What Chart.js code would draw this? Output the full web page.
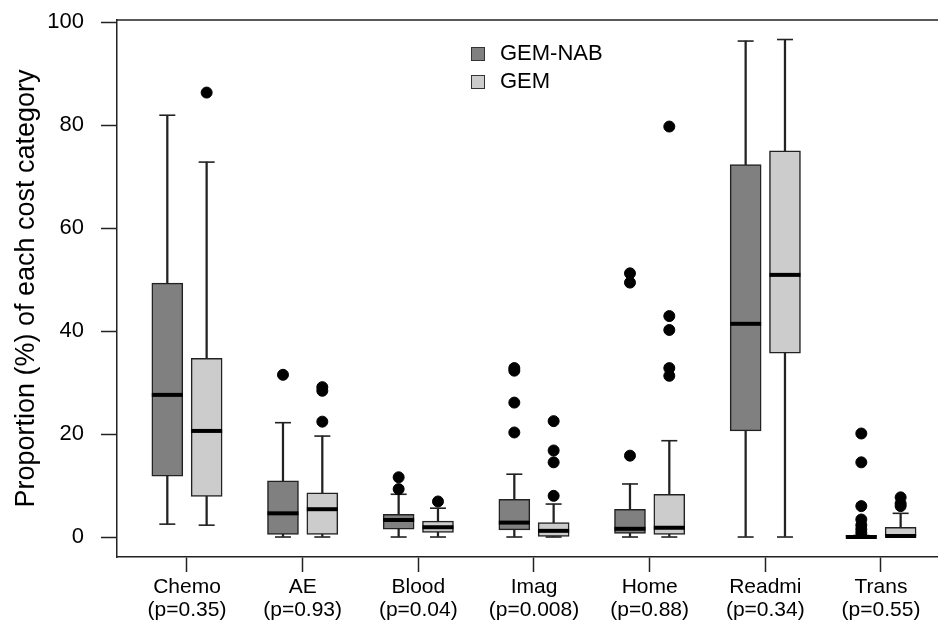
<!DOCTYPE html>
<html>
<head>
<meta charset="utf-8">
<script src="https://cdn.jsdelivr.net/npm/chart.js@4.4.1/dist/chart.umd.min.js"></script>
<style>
  html, body { margin: 0; padding: 0; background: #fff; }
</style>
</head>
<body>
<canvas id="myChart" width="938" height="622"></canvas>
<script>
// categories and p-values on the x axis
const categories = ['Chemo', 'AE', 'Blood', 'Imag', 'Home', 'Readmi', 'Trans'];
const pValues = ['0.35', '0.93', '0.04', '0.008', '0.88', '0.34', '0.55'];
const yTicks = [0, 20, 40, 60, 80, 100];

// GEM-NAB boxplot stats
const nabMin = [2.5, 0, 0, 0, 0, 0, 0];
const nabQ1 = [11.8, 0.5, 1.5, 1.4, 0.7, 20.6, 0];
const nabMed = [27.6, 4.6, 3.3, 2.8, 1.6, 41.4, 0];
const nabQ3 = [49.3, 10.9, 4.4, 7.3, 5.4, 72.3, 0.3];
const nabMax = [81.9, 22.2, 8.3, 12.2, 10.3, 96.3, 0.3];
const nabOut = [[], [31.5], [11.6, 9.3], [32.8, 32.3, 26.1, 20.3], [51.2, 49.4, 15.8], [], [20.1, 14.5, 6.0, 3.4, 2.3, 1.5, 0.8]];

// GEM boxplot stats
const gemMin = [2.3, 0, 0, 0, 0, 0, 0];
const gemQ1 = [7.9, 0.5, 0.9, 0.1, 0.5, 35.7, 0];
const gemMed = [20.6, 5.4, 1.9, 1.2, 1.8, 50.9, 0.2];
const gemQ3 = [34.7, 8.6, 3.1, 2.8, 8.3, 75.0, 1.9];
const gemMax = [72.8, 19.6, 5.6, 6.4, 18.7, 96.6, 4.6];
const gemOut = [[86.3], [29.1, 28.4, 22.4], [6.9], [22.5, 16.8, 14.5, 8.0], [79.7, 42.9, 40.2, 32.8, 31.3], [], [7.7, 6.5, 6.0]];

const FONT = '"Liberation Sans", Arial, sans-serif';
Chart.defaults.font.family = FONT;
Chart.defaults.color = '#000';

const shift = 0.17; // half distance between the two boxes of a category

function boxSets(label, color, side, mins, q1s, meds, q3s, maxs, outs) {
  const xs = categories.map((c, i) => i + 1 + side * shift);
  return [
    { // box
      type: 'bar', label: label,
      data: xs.map((x, i) => ({ x: x, y: [q1s[i], q3s[i]] })),
      backgroundColor: color, borderColor: '#222', borderWidth: 1.5,
      borderSkipped: false, barThickness: 31, grouped: false, order: 2
    },
    { // whisker stem
      type: 'bar',
      data: xs.map((x, i) => ({ x: x, y: [mins[i], maxs[i]] })),
      backgroundColor: '#222', borderWidth: 0, barThickness: 1.6, grouped: false, order: 3
    },
    { // whisker caps
      type: 'scatter',
      data: xs.flatMap((x, i) => [{ x: x, y: mins[i] }, { x: x, y: maxs[i] }]),
      pointStyle: 'line', radius: 8, borderWidth: 1.6, borderColor: '#222', order: 1
    },
    { // median
      type: 'scatter',
      data: xs.map((x, i) => ({ x: x, y: meds[i] })),
      pointStyle: 'line', radius: 15.5, borderWidth: 4, borderColor: '#000', order: 0
    },
    { // outliers
      type: 'scatter',
      data: xs.flatMap((x, i) => outs[i].map(v => ({ x: x, y: v }))),
      pointStyle: 'circle', radius: 5.5, backgroundColor: '#000', borderColor: '#000', borderWidth: 1, order: 0
    }
  ];
}

// top line of the plot box
const frameTop = {
  id: 'frameTop',
  afterDraw(chart) {
    const { ctx, chartArea: a } = chart;
    ctx.save();
    ctx.strokeStyle = '#222';
    ctx.lineWidth = 1.5;
    ctx.beginPath();
    ctx.moveTo(a.left, a.top);
    ctx.lineTo(a.right, a.top);
    ctx.stroke();
    ctx.restore();
  }
};

// legend drawn inside the plot, R style
const boxLegend = {
  id: 'boxLegend',
  afterDraw(chart) {
    const ctx = chart.ctx;
    const items = chart.data.datasets.filter(d => d.label);
    ctx.save();
    ctx.font = '22px ' + FONT;
    ctx.textBaseline = 'middle';
    items.forEach((d, i) => {
      const y = 54 + i * 28;
      ctx.fillStyle = d.backgroundColor;
      ctx.fillRect(471, y - 7, 14, 14);
      ctx.strokeStyle = '#333';
      ctx.lineWidth = 1;
      ctx.strokeRect(471.5, y - 6.5, 13, 13);
      ctx.fillStyle = '#000';
      ctx.fillText(d.label, 500, y);
    });
    ctx.restore();
  }
};

const config = {
  type: 'bar',
  data: {
    datasets: [
      ...boxSets('GEM-NAB', '#808080', -1, nabMin, nabQ1, nabMed, nabQ3, nabMax, nabOut),
      ...boxSets('GEM', '#cccccc', 1, gemMin, gemQ1, gemMed, gemQ3, gemMax, gemOut)
    ]
  },
  options: {
    responsive: false,
    animation: false,
    layout: { autoPadding: false, padding: { top: 20, right: 0, bottom: 0, left: 0 } },
    plugins: { legend: { display: false }, tooltip: { enabled: false } },
    scales: {
      x: {
        type: 'linear', min: 0.395, max: 7.493, offset: false,
        afterBuildTicks: s => { s.ticks = categories.map((c, i) => ({ value: i + 1 })); },
        afterFit: s => { s.height = 65; s.paddingRight = 0; s.paddingLeft = 0; },
        ticks: {
          callback: v => {
            const i = Math.round(v) - 1;
            return [categories[i], '(p=' + pValues[i] + ')'];
          },
          font: { size: 21, lineHeight: 1.12 }, padding: 3,
          maxRotation: 0, autoSkip: false
        },
        grid: { offset: false, drawOnChartArea: false, tickLength: 15, tickColor: '#222', tickWidth: 1.5 },
        border: { color: '#222', width: 1.5 }
      },
      y: {
        min: -3.88, max: 100.39,
        afterBuildTicks: s => { s.ticks = yTicks.map(v => ({ value: v })); },
        afterFit: s => { s.width = 117; s.paddingTop = 0; s.paddingBottom = 0; },
        ticks: { font: { size: 22 }, padding: 17 },
        grid: { drawOnChartArea: false, tickLength: 16, tickColor: '#222', tickWidth: 1.5 },
        border: { color: '#222', width: 1.5 },
        title: {
          display: true, text: 'Proportion (%) of each cost category',
          font: { size: 27 }, padding: { top: 10, bottom: 0 }
        }
      }
    }
  },
  plugins: [frameTop, boxLegend]
};

const myChart = new Chart(document.getElementById('myChart'), config);
</script>
</body>
</html>
